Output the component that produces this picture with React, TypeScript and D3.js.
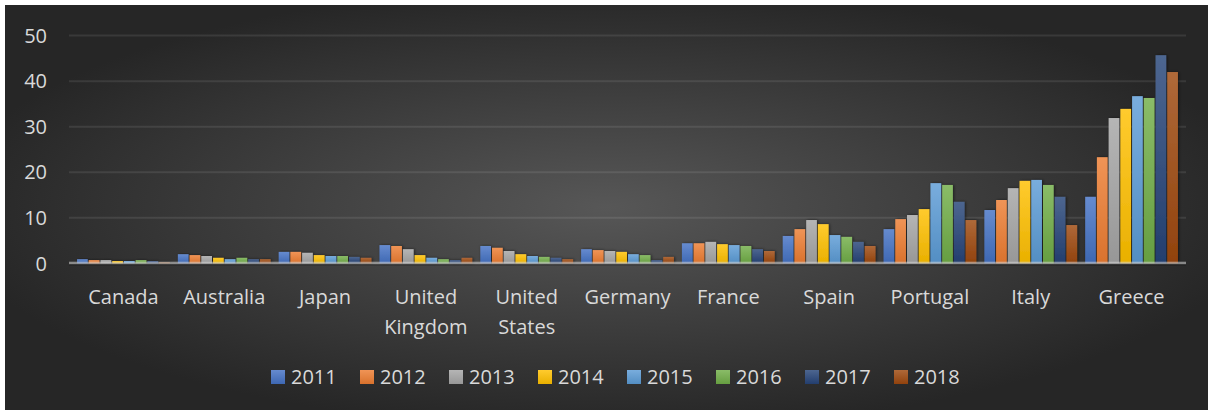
import * as d3 from 'd3';

const countries = ['Canada', 'Australia', 'Japan', 'United Kingdom', 'United States', 'Germany', 'France', 'Spain', 'Portugal', 'Italy', 'Greece'];
const years = ['2011', '2012', '2013', '2014', '2015', '2016', '2017', '2018'];
const yTicks = [0, 10, 20, 30, 40, 50];

// one row per country, one value per year
const values = [
    [0.9, 0.7, 0.7, 0.5, 0.5, 0.7, 0.5, 0.2],
    [2.0, 1.8, 1.6, 1.2, 0.9, 1.2, 0.9, 0.9],
    [2.5, 2.5, 2.3, 1.8, 1.6, 1.6, 1.4, 1.2],
    [4.0, 3.8, 3.1, 1.8, 1.2, 0.9, 0.7, 1.2],
    [3.8, 3.4, 2.7, 2.0, 1.6, 1.4, 1.2, 0.9],
    [3.1, 2.9, 2.7, 2.5, 2.0, 1.8, 0.7, 1.4],
    [4.4, 4.4, 4.7, 4.2, 4.0, 3.8, 3.1, 2.7],
    [6.0, 7.5, 9.5, 8.6, 6.2, 5.8, 4.7, 3.8],
    [7.5, 9.7, 10.6, 11.9, 17.6, 17.2, 13.5, 9.5],
    [11.7, 13.9, 16.5, 18.1, 18.3, 17.2, 14.6, 8.4],
    [14.6, 23.3, 31.9, 33.9, 36.7, 36.3, 45.7, 42.0],
];

const colors = ['#4472C4', '#ED7D31', '#A5A5A5', '#FFC000', '#5B9BD5', '#70AD47', '#264478', '#9E480E'];

const W = 1208;
const H = 410;
const font = '"Open Sans", sans-serif';
const textColor = '#d9d9d9';

const App = () => {
    const x = d3.scaleBand<string>().domain(countries).range([69, 1186]).padding(0.08);
    const xi = d3.scaleBand<string>().domain(years).range([0, x.bandwidth()]).paddingInner(0.09);
    const y = d3.scaleLinear().domain([0, 50]).range([263.3, 35.6]);

    const legendStep = 89;
    const legendX = 271;

    return (
        <svg width={W} height={H} style={{ position: 'absolute', left: 0, top: 0 }}>
            <defs>
                <radialGradient id="bg" cx="50%" cy="50%" r="55%" gradientUnits="objectBoundingBox">
                    <stop offset="0%" stopColor="#575757" />
                    <stop offset="100%" stopColor="#262626" />
                </radialGradient>
                {colors.map((c, i) => (
                    <linearGradient key={i} id={`g${i}`} x1="0" y1="0" x2="0" y2="1">
                        <stop offset="0%" stopColor={d3.interpolateRgb(c, '#ffffff')(0.18)} />
                        <stop offset="100%" stopColor={d3.color(c)!.darker(0.25).formatHex()} />
                    </linearGradient>
                ))}
                <filter id="shadow" x="-30%" y="-10%" width="160%" height="120%">
                    <feDropShadow dx="1" dy="0" stdDeviation="1.6" floodColor="#000" floodOpacity="0.55" />
                </filter>
            </defs>
            <rect x={0} y={0} width={W} height={H} fill="#fff" />
            <rect x={5} y={5} width={W - 5} height={H - 5} fill="url(#bg)" />

            {/* gridlines + y labels */}
            {yTicks.map((t) => (
                <g key={t}>
                    {t > 0 && (
                        <line x1={69} x2={1186} y1={y(t)} y2={y(t)} stroke="rgba(255,255,255,0.09)" strokeWidth={2} />
                    )}
                    <text x={47} y={y(t)} dy="0.36em" textAnchor="end" fontFamily={font} fontSize={20} fill={textColor}>
                        {t}
                    </text>
                </g>
            ))}

            {/* bars */}
            {countries.map((c, ci) => (
                <g key={c} transform={`translate(${x(c)},0)`} filter="url(#shadow)">
                    {years.map((yr, yi) => {
                        const v = values[ci][yi];
                        return (
                            <rect
                                key={yr}
                                x={xi(yr)}
                                y={y(v)}
                                width={xi.bandwidth()}
                                height={y(0) - y(v)}
                                fill={`url(#g${yi})`}
                            />
                        );
                    })}
                </g>
            ))}

            {/* axis line */}
            <rect x={69} y={y(0) - 1.6} width={1117} height={2.6} fill="rgba(215,215,215,0.55)" />
            <line x1={69} x2={1186} y1={y(0) + 1.6} y2={y(0) + 1.6} stroke="rgba(0,0,0,0.35)" strokeWidth={1} />

            {/* x labels */}
            {countries.map((c) => {
                const cx = x(c)! + x.bandwidth() / 2;
                const parts = c.startsWith('United ') ? ['United', c.slice(7)] : [c];
                return (
                    <text key={c} x={cx} y={304} textAnchor="middle" fontFamily={font} fontSize={20} fill={textColor}>
                        {parts.map((p, i) => (
                            <tspan key={p} x={cx} dy={i === 0 ? 0 : 30}>
                                {p}
                            </tspan>
                        ))}
                    </text>
                );
            })}

            {/* legend */}
            {years.map((yr, i) => (
                <g key={yr} transform={`translate(${legendX + i * legendStep},370)`}>
                    <rect x={0} y={0} width={14} height={14} fill={`url(#g${i})`} />
                    <text x={20} y={14} fontFamily={font} fontSize={20} fill={textColor}>
                        {yr}
                    </text>
                </g>
            ))}
        </svg>
    );
};

export default App;
